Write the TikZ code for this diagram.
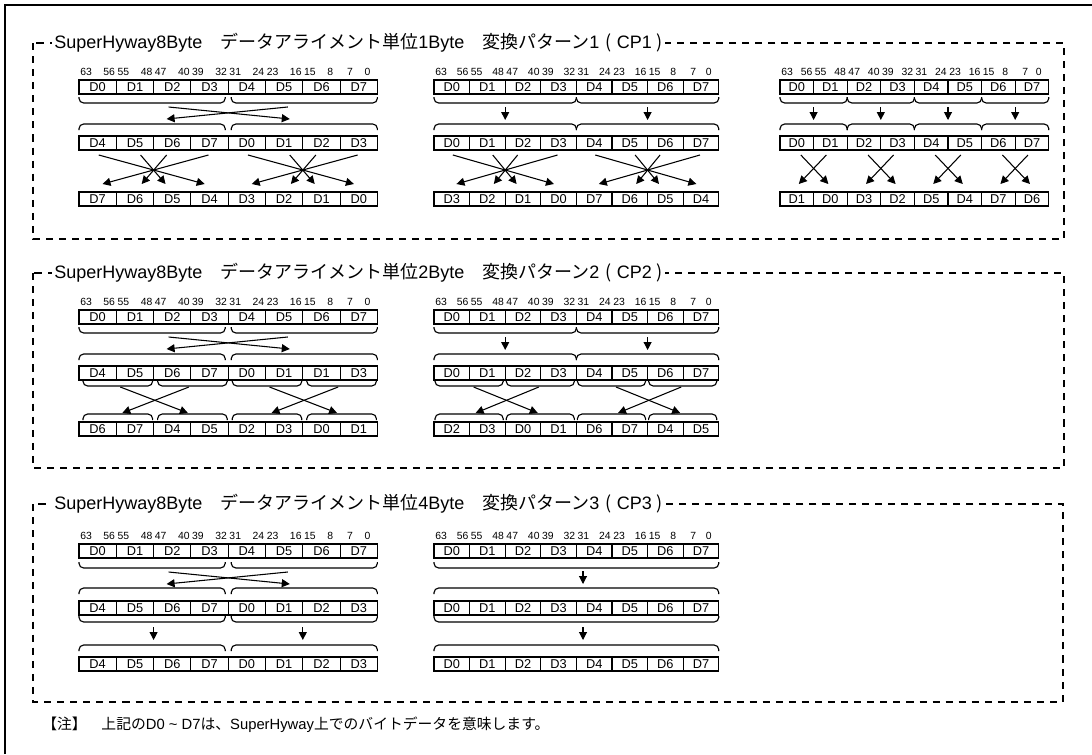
\documentclass[tikz,border=0pt]{standalone}
\usepackage{fontspec}
\setmainfont{Liberation Sans}
\newfontfamily\jp{Noto Sans CJK JP}
\usepackage{tikz}
\usetikzlibrary{arrows.meta}

% one register row: name, left x, top y, cell width, labels
\newcommand{\regrow}[5]{%
  \foreach \lab [count=\i] in {#5}
    \node[cell, minimum width=#4*0.75pt] (#1-\i) at ({#2+(\i-0.5)*#4},{#3+7}) {\lab};}
% bit numbers over a row: name, left x, top y, cell width
\newcommand{\bitrow}[4]{%
  \foreach \hi/\lo [count=\i] in {63/56,55/48,47/40,39/32,31/24,23/16,15/8\phantom{0},\phantom{0}7/0\phantom{0}} {
    \node[bit, anchor=south west] (#1-h\i) at ({#2+(\i-1)*#4+1},{#3-4}) {\hi};
    \node[bit, anchor=south east] (#1-l\i) at ({#2+\i*#4-1},{#3-4}) {\lo};}}
\newcommand{\ubr}[3]{\draw[brace] (#1,#3) -- (#1,{#3+6}) -- (#2,{#3+6}) -- (#2,#3);}
\newcommand{\obr}[3]{\draw[brace] (#1,#3) -- (#1,{#3-6}) -- (#2,{#3-6}) -- (#2,#3);}
\newcommand{\downarr}[2]{\draw[arr] (#1,#2) -- (#1,{#2+13});}
\newcommand{\halfswap}[3]{%
  \draw[arr] ({#1+15},#3) -- ({#2-13},{#3+12});
  \draw[arr] ({#2-15},#3) -- ({#1+13},{#3+12});}
\newcommand{\pairswap}[3]{%
  \draw[arr] ({#1+4},#3) -- ({#2-3},{#3+26});
  \draw[arr] ({#2-2},#3) -- ({#1+6},{#3+26});}
\newcommand{\fanfour}[3]{%
  \foreach \a/\b in {-1.47/1.37,-0.35/0.32,0.35/-0.32,1.47/-1.37}
    \draw[arr] ({#1+(\a)*#2},#3) -- ({#1+(\b)*#2},{#3+29});}
\newcommand{\xpair}[3]{%
  \foreach \a/\b in {-0.38/0.44,0.38/-0.44}
    \draw[arr] ({#1+(\a)*#2},#3) -- ({#1+(\b)*#2},{#3+29});}
\newcommand{\cpname}[3]{SuperHyway8Byte{\jp 　データアライメント単位}#1Byte{\jp 　変換パターン}#2\hspace{4.5pt}{\jp (}\hspace{4pt}#3\hspace{3.5pt}{\jp )}}

\begin{document}
\begin{tikzpicture}[
    x=0.75pt, y=-0.75pt,
    cell/.style={draw, line width=0.85pt, minimum height=10.5pt, inner sep=0pt, font=\fontsize{9.6}{10}\selectfont},
    bit/.style={inner sep=0pt, font=\fontsize{7.8}{8}\selectfont},
    brace/.style={draw, line width=0.85pt, rounded corners=3.5pt},
    arr/.style={draw, line width=0.8pt, -{Triangle[length=6pt,width=6pt]}},
    frame/.style={draw, line width=1.5pt, dash pattern=on 5.3pt off 4.5pt},
    title/.style={fill=white, inner sep=1.5pt, anchor=west, font=\fontsize{13.5}{15}\selectfont},
    note/.style={inner sep=0pt, anchor=west, font=\fontsize{11.1}{12}\selectfont}
]
\useasboundingbox (0,0) rectangle (1092,754);
\draw[line width=1.5pt] (5,754) -- (5,5) -- (1092,5);

% 1 Byte
\draw[frame] (33,43) rectangle (1064,239);
\node[title] (t1) at (52,43) {\cpname{1}{1}{CP1}};

\bitrow{a1}{79}{80}{37.3}
\regrow{a1r1}{79}{80}{37.3}{D0,D1,D2,D3,D4,D5,D6,D7}
\ubr{79}{225.2}{97} \ubr{231.2}{377.4}{97}
\halfswap{153.6}{302.8}{107}
\obr{79}{225.2}{130} \obr{231.2}{377.4}{130}
\regrow{a1r2}{79}{136}{37.3}{D4,D5,D6,D7,D0,D1,D2,D3}
\fanfour{153.6}{37.3}{155} \fanfour{302.8}{37.3}{155}
\regrow{a1r3}{79}{192}{37.3}{D7,D6,D5,D4,D3,D2,D1,D0}

\bitrow{b1}{434}{80}{35.6}
\regrow{b1r1}{434}{80}{35.6}{D0,D1,D2,D3,D4,D5,D6,D7}
\ubr{434}{576.4}{97} \ubr{576.4}{718.8}{97}
\downarr{505.2}{107} \downarr{647.6}{107}
\obr{434}{576.4}{130} \obr{576.4}{718.8}{130}
\regrow{b1r2}{434}{136}{35.6}{D0,D1,D2,D3,D4,D5,D6,D7}
\fanfour{505.2}{35.6}{155} \fanfour{647.6}{35.6}{155}
\regrow{b1r3}{434}{192}{35.6}{D3,D2,D1,D0,D7,D6,D5,D4}

\bitrow{c1}{780}{80}{33.6}
\regrow{c1r1}{780}{80}{33.6}{D0,D1,D2,D3,D4,D5,D6,D7}
\foreach \p in {0,...,3} {
  \ubr{780+67.2*\p}{847.2+67.2*\p}{97}
  \downarr{813.6+67.2*\p}{107}
  \obr{780+67.2*\p}{847.2+67.2*\p}{130}
  \xpair{813.6+67.2*\p}{33.6}{155}
}
\regrow{c1r2}{780}{136}{33.6}{D0,D1,D2,D3,D4,D5,D6,D7}
\regrow{c1r3}{780}{192}{33.6}{D1,D0,D3,D2,D5,D4,D7,D6}

% 2 Byte
\draw[frame] (33,273) rectangle (1064,468);
\node[title] (t2) at (52,273) {\cpname{2}{2}{CP2}};

\bitrow{a2}{79}{310}{37.3}
\regrow{a2r1}{79}{310}{37.3}{D0,D1,D2,D3,D4,D5,D6,D7}
\ubr{79}{225.2}{327} \ubr{231.2}{377.4}{327}
\halfswap{153.6}{302.8}{337}
\obr{79}{225.2}{360} \obr{231.2}{377.4}{360}
\regrow{a2r2}{79}{366}{37.3}{D4,D5,D6,D7,D0,D1,D1,D3}
\foreach \p in {0,...,3} {
  \ubr{83+74.6*\p}{152.6+74.6*\p}{380}
  \obr{83+74.6*\p}{152.6+74.6*\p}{420}
}
\pairswap{116.3}{190.9}{387} \pairswap{265.5}{340.1}{387}
\regrow{a2r3}{79}{422}{37.3}{D6,D7,D4,D5,D2,D3,D0,D1}

\bitrow{b2}{434}{310}{35.6}
\regrow{b2r1}{434}{310}{35.6}{D0,D1,D2,D3,D4,D5,D6,D7}
\ubr{434}{576.4}{327} \ubr{576.4}{718.8}{327}
\downarr{505.2}{337} \downarr{647.6}{337}
\obr{434}{576.4}{360} \obr{576.4}{718.8}{360}
\regrow{b2r2}{434}{366}{35.6}{D0,D1,D2,D3,D4,D5,D6,D7}
\foreach \p in {0,...,3} {
  \ubr{435+71.2*\p}{503.2+71.2*\p}{380}
  \obr{435+71.2*\p}{503.2+71.2*\p}{420}
}
\pairswap{469.6}{540.8}{387} \pairswap{612.0}{683.2}{387}
\regrow{b2r3}{434}{422}{35.6}{D2,D3,D0,D1,D6,D7,D4,D5}

% 4 Byte
\draw[frame] (33,504) rectangle (1063,702);
\node[title] (t3) at (52,504) {\cpname{4}{3}{CP3}};

\bitrow{a3}{79}{544}{37.3}
\regrow{a3r1}{79}{544}{37.3}{D0,D1,D2,D3,D4,D5,D6,D7}
\ubr{79}{225.2}{562} \ubr{231.2}{377.4}{562}
\halfswap{153.6}{302.8}{572}
\obr{79}{225.2}{594} \obr{231.2}{377.4}{594}
\regrow{a3r2}{79}{601}{37.3}{D4,D5,D6,D7,D0,D1,D2,D3}
\ubr{79}{225.2}{616} \ubr{231.2}{377.4}{616}
\downarr{153.6}{627} \downarr{302.8}{627}
\obr{79}{225.2}{651} \obr{231.2}{377.4}{651}
\regrow{a3r3}{79}{657}{37.3}{D4,D5,D6,D7,D0,D1,D2,D3}

\bitrow{b3}{434}{544}{35.6}
\regrow{b3r1}{434}{544}{35.6}{D0,D1,D2,D3,D4,D5,D6,D7}
\ubr{434}{718.8}{562}
\downarr{583}{571}
\obr{434}{718.8}{594}
\regrow{b3r2}{434}{601}{35.6}{D0,D1,D2,D3,D4,D5,D6,D7}
\ubr{434}{718.8}{616}
\downarr{583}{627}
\obr{434}{718.8}{651}
\regrow{b3r3}{434}{657}{35.6}{D0,D1,D2,D3,D4,D5,D6,D7}

\node[note] (fn) at (42,725) {{\jp 【注】　上記の}D0 \textasciitilde{} D7{\jp は、}SuperHyway{\jp 上でのバイトデータを意味します。}};

\end{tikzpicture}
\end{document}
